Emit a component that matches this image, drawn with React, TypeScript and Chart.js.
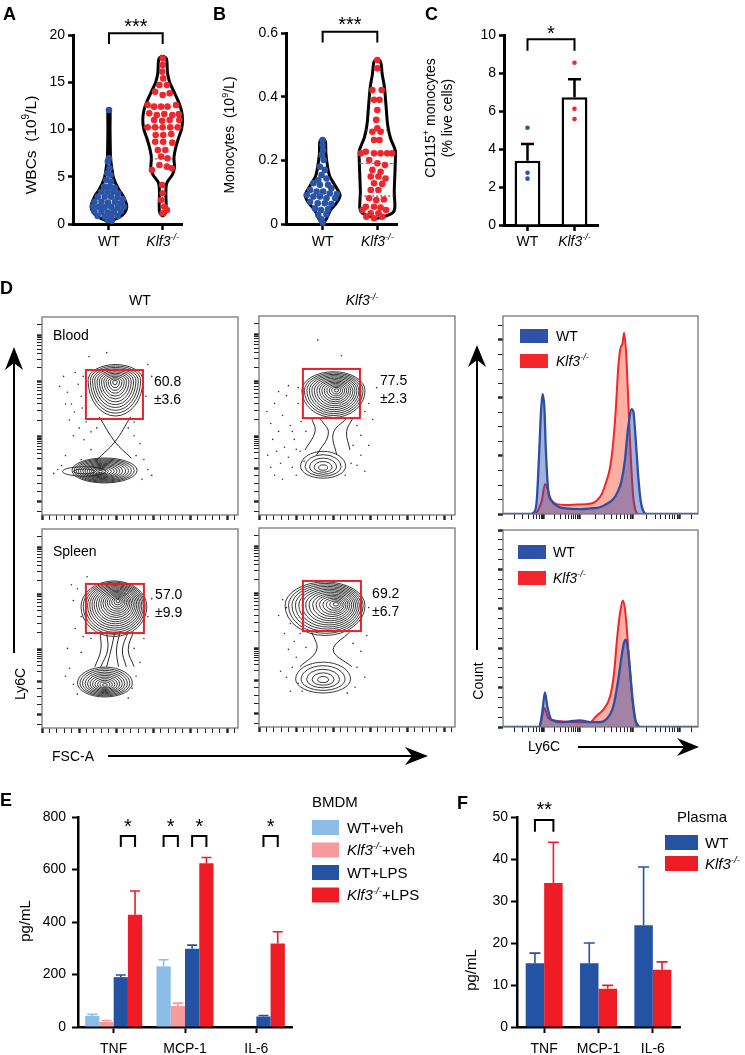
import React, { useEffect, useRef } from 'react';
import { Chart, registerables } from 'chart.js';

Chart.register(...registerables);

const FONT = '"Liberation Sans", Arial, Helvetica, sans-serif';
Chart.defaults.font.family = FONT;
Chart.defaults.color = '#000';

// ================= DATA =================
const groupLabels = ['WT', 'Klf3-/-'];

// Panel A – WBCs (10^9/L)
const wbcTicks = [0, 5, 10, 15, 20];
const wbcWT = [12.06, 6.95, 6.6, 5.89, 5.36, 5.19, 4.66, 4.48, 3.95, 3.95,
  3.84, 3.42, 3.42, 3.42, 3.25, 2.89, 2.89, 2.89, 2.82, 2.61,
  2.36, 2.36, 2.26, 2.36, 2.19, 1.83, 1.83, 1.76, 1.83, 1.76,
  1.83, 1.31, 1.31, 1.2, 1.31, 1.31, 0.85, 0.78, 0.78, 0.85,
  0.42, 0.35];
const wbcWTx = [0, 0, -0.02, 0.01, -0.03, 0.03, -0.05, 0.04, -0.09, 0.01,
  0.11, -0.14, -0.03, 0.08, 0.17, -0.21, -0.08, 0.04, 0.16, 0.26,
  -0.27, -0.14, -0.02, 0.11, 0.22, -0.3, -0.19, -0.08, 0.04, 0.16,
  0.28, -0.27, -0.14, -0.02, 0.09, 0.22, -0.21, -0.08, 0.04, 0.16,
  -0.02, 0.05];
const wbcKO = [17.53, 16.83, 16.12, 15.41, 14.71, 14.71, 14.0, 13.83, 13.65, 12.59,
  12.42, 12.42, 12.42, 12.59, 11.71, 11.53, 11.64, 11.53, 11.64, 11.01,
  10.93, 11.01, 11.01, 10.23, 10.23, 10.23, 10.23, 10.23, 9.42, 9.42,
  9.52, 8.71, 8.71, 8.61, 7.83, 7.83, 7.13, 6.95, 6.24, 6.07,
  5.71, 5.89, 4.13, 3.25, 2.54, 1.83, 1.48, 1.13];
const wbcKOx = [0, 0, -0.01, 0.01, -0.06, 0.08, -0.14, 0.13, 0, -0.28,
  -0.16, -0.03, 0.09, 0.25, -0.25, -0.11, 0.03, 0.18, 0.3, -0.16,
  -0.01, 0.13, 0.31, -0.28, -0.14, 0, 0.14, 0.28, -0.13, 0.01,
  0.16, -0.14, 0.01, 0.18, -0.09, 0.05, -0.03, 0.09, -0.06, 0.08,
  -0.2, 0.17, -0.01, 0, -0.03, 0.03, 0.08, 0];
const wbcViolinWTy = [12.2, 12.0, 10, 8, 7, 6, 5, 4.5, 4, 3.5, 3, 2.5, 2, 1.5, 1.0, 0.6, 0.3];
const wbcViolinWTw = [0, 0.02, 0.02, 0.025, 0.03, 0.05, 0.08, 0.11, 0.15, 0.2, 0.26, 0.3, 0.33, 0.32, 0.26, 0.15, 0];
const wbcViolinKOy = [17.8, 17.5, 16, 15, 14, 13, 12, 11, 10, 9, 8, 7, 6, 5.2, 4.5, 4, 3, 2, 1.2, 0.85];
const wbcViolinKOw = [0, 0.07, 0.09, 0.13, 0.21, 0.29, 0.35, 0.37, 0.35, 0.29, 0.24, 0.21, 0.22, 0.18, 0.09, 0.065, 0.06, 0.065, 0.055, 0];
const wbcKOQuartiles = [12.4, 10.2, 6.9];

// Panel B – Monocytes (10^9/L)
const monoTicks = [0, 0.2, 0.4, 0.6];
const monoWT = [0.264, 0.248, 0.232, 0.217, 0.201, 0.18, 0.17, 0.154, 0.143, 0.138,
  0.128, 0.123, 0.123, 0.112, 0.107, 0.102, 0.102, 0.096, 0.094, 0.091,
  0.086, 0.086, 0.081, 0.081, 0.07, 0.065, 0.065, 0.063, 0.049, 0.044,
  0.046, 0.028, 0.031, 0.015, 0.004];
const monoWTx = [0, 0, 0.01, -0.02, 0.02, -0.05, 0.04, -0.02, 0.07, -0.08,
  -0.17, -0.05, 0.1, 0.16, -0.23, -0.11, 0.01, 0.13, 0.26, -0.29,
  -0.17, -0.05, 0.07, 0.23, -0.23, -0.09, 0.04, 0.16, -0.14, -0.03,
  0.1, -0.08, 0.07, -0.02, 0];
const monoKO = [0.515, 0.489, 0.421, 0.421, 0.39, 0.39, 0.358, 0.327, 0.301, 0.29,
  0.29, 0.264, 0.264, 0.222, 0.227, 0.222, 0.222, 0.222, 0.222, 0.201,
  0.191, 0.185, 0.17, 0.164, 0.149, 0.149, 0.143, 0.128, 0.126, 0.107,
  0.107, 0.081, 0.075, 0.077, 0.054, 0.054, 0.052, 0.044, 0.034, 0.034,
  0.044, 0.023, 0.018, 0.023];
const monoKOx = [0, 0, -0.09, 0.08, -0.06, 0.04, 0, -0.02, 0, -0.09,
  0.06, -0.06, 0.04, -0.3, -0.21, -0.06, 0.06, 0.18, 0.27, -0.15,
  0, 0.14, -0.09, 0.06, -0.12, 0.02, 0.15, -0.06, 0.09, -0.12,
  0.02, -0.15, -0.02, 0.12, -0.21, -0.06, 0.06, -0.27, -0.12, 0.02,
  0.16, -0.2, -0.06, 0.09];
const monoViolinWTy = [0.27, 0.26, 0.22, 0.18, 0.15, 0.12, 0.09, 0.065, 0.045, 0.02, 0.0];
const monoViolinWTw = [0, 0.05, 0.06, 0.09, 0.13, 0.23, 0.32, 0.25, 0.15, 0.08, 0];
const monoViolinKOy = [0.52, 0.51, 0.47, 0.43, 0.37, 0.31, 0.27, 0.23, 0.2, 0.15, 0.1, 0.05, 0.035, 0.025, 0.018];
const monoViolinKOw = [0, 0.06, 0.09, 0.13, 0.16, 0.19, 0.24, 0.33, 0.33, 0.32, 0.31, 0.32, 0.28, 0.15, 0];
const monoKOQuartiles = [0.295, 0.19, 0.088];

// Panel C – CD115+ monocytes (% live cells)
const cdTicks = [0, 2, 4, 6, 8, 10];
const cdMeans = [3.38, 6.72];
const cdSem = [0.88, 0.95];
const cdDotsWT = [5.12, 2.75, 2.44];
const cdDotsKO = [8.54, 6.12, 5.58];

// Panel D – flow cytometry (channel units 0–1000)
const flowXMajor = [0, 189, 378, 567, 756, 945];
const flowXMinor = [38, 76, 113, 151, 227, 265, 302, 340, 416, 454, 491, 529, 605, 643, 680, 718, 794, 832, 869, 907, 983];
const flowYMajor = [67, 236, 395, 672, 909];
const flowYMinor = [20, 120, 160, 200, 284, 312, 332, 347, 360, 370, 380, 388, 478, 527, 562, 589, 611, 629, 645, 659, 743, 785, 815, 838, 856, 872, 886, 898, 960];
const histXMajor = [207, 391, 665, 905];
const histXMinor = [60, 100, 130, 155, 172, 185, 195, 202, 262, 295, 318, 336, 350, 362, 373, 383, 473, 522, 556, 582, 604, 622, 638, 652, 737, 780, 810, 833, 852, 868, 882, 894, 967];
const histBloodYMajor = [0, 29.3, 58.6, 87.9];
const histBloodYMinor = [7.3, 14.6, 22, 36.6, 44, 51.3, 66, 73.2, 80.5, 95.2];
const histSpleenYMajor = [0, 20, 40, 60, 80, 100];
const histSpleenYMinor = [5, 10, 15, 25, 30, 35, 45, 50, 55, 65, 70, 75, 85, 90, 95];

// contour populations: [cx, cy, rx, ryTop, ryBottom, peakX, peakY, levels]
const popsBloodWT = [[375, 680, 140, 80, 180, 372, 672, 12], [319, 225, 166, 63, 63, 296, 219, 13], [215, 220, 110, 24, 24, 215, 220, 2]];
const popsBloodKO = [[380, 625, 161, 95, 135, 396, 628, 14], [327, 245, 115, 75, 60, 327, 235, 5]];
const popsSpleenWT = [[367, 610, 168, 129, 150, 389, 640, 17], [321, 226, 140, 80, 70, 321, 215, 11]];
const popsSpleenKO = [[337, 610, 204, 119, 150, 396, 618, 15], [327, 241, 140, 85, 70, 327, 236, 5]];

const necksBloodWT = [[[292, 496], [372, 370], [457, 286]], [[452, 496], [372, 370], [279, 278]]];
const necksBloodKO = [[[269, 486], [286, 419], [235, 327]], [[478, 486], [447, 419], [464, 327]], [[311, 486], [354, 411], [294, 302]], [[447, 486], [379, 411], [396, 302]]];
const necksSpleenWT = [[[296, 484], [300, 392], [270, 308]], [[330, 484], [335, 392], [300, 308]], [[372, 484], [352, 392], [330, 308]], [[398, 484], [380, 392], [390, 308]], [[440, 484], [410, 392], [430, 308]], [[466, 484], [440, 392], [470, 308]]];
const necksSpleenKO = [[[269, 479], [294, 387], [209, 303]], [[464, 479], [379, 387], [473, 303]]];

const dotsBloodWT = [[90, 650], [110, 700], [130, 620], [150, 560], [170, 720], [185, 660], [200, 600], [210, 700], [165, 520], [140, 480], [120, 560], [205, 540], [225, 470], [190, 440], [250, 420], [160, 400], [215, 380], [250, 330], [280, 440], [440, 440], [470, 400], [500, 360], [480, 300], [520, 280], [540, 230], [560, 200], [510, 180], [120, 300], [100, 250], [80, 230], [60, 210], [540, 760], [560, 700], [240, 800], [330, 820], [530, 600], [200, 280], [470, 470]];
const dotsBloodKO = [[40, 520], [60, 460], [80, 560], [100, 420], [120, 500], [140, 600], [160, 450], [180, 380], [200, 560], [215, 470], [70, 380], [90, 320], [110, 260], [130, 340], [150, 290], [170, 240], [190, 200], [60, 240], [80, 200], [45, 300], [210, 320], [230, 270], [100, 620], [150, 650], [200, 640], [120, 180], [170, 420], [190, 330], [520, 600], [540, 520], [560, 560], [500, 450], [520, 400], [560, 350], [520, 300], [500, 250], [540, 220], [580, 480], [480, 350], [470, 260], [440, 200], [300, 880], [420, 800], [600, 640], [240, 420]];
const dotsSpleenWT = [[180, 700], [160, 640], [200, 560], [170, 500], [210, 460], [150, 720], [230, 760], [250, 450], [140, 300], [120, 260], [160, 220], [180, 170], [200, 380], [470, 400], [500, 330], [480, 260], [460, 200], [520, 450], [560, 650], [540, 560], [130, 400], [440, 150]];
const dotsSpleenKO = [[120, 640], [140, 600], [100, 560], [160, 520], [130, 470], [180, 430], [150, 390], [190, 350], [170, 300], [140, 250], [200, 220], [110, 280], [220, 180], [160, 180], [480, 420], [520, 380], [500, 300], [540, 250], [490, 200], [550, 460], [520, 540], [560, 600], [450, 170], [240, 400], [210, 470]];

const gates = [[224, 485, 515, 732], [224, 487, 515, 734], [224, 477, 520, 724], [224, 482, 520, 734]];
const gatePct = ['60.8', '77.5', '57.0', '69.2'];
const gateSd = ['±3.6', '±2.3', '±9.9', '±6.7'];
const tissues = ['Blood', 'Spleen'];

// Ly6C histograms: [channel, % of max]
const histBloodWT = [[0, 0], [140, 0], [160, 1], [173, 6.7], [186, 32], [195, 52], [203, 60.5], [212, 54], [220, 32], [232, 11.8], [249, 6.7], [275, 4.2], [320, 2.8], [400, 2.5], [446, 2.8], [497, 3.4], [531, 5], [566, 7.6], [591, 11.8], [608, 16.8], [625, 27], [642, 43.7], [660, 53], [668, 52], [681, 37], [694, 18.5], [706, 6.7], [723, 0.8], [737, 0], [1000, 0]];
const histBloodKO = [[0, 0], [165, 0], [180, 2], [199, 6.7], [215, 15], [227, 13.4], [241, 8.4], [258, 5.9], [275, 5], [320, 4.6], [380, 4.8], [446, 5.2], [480, 6.7], [506, 10], [531, 16.8], [549, 23.5], [566, 37], [579, 53.8], [591, 74], [603, 84], [612, 85.7], [621, 91.6], [631, 82], [639, 65.5], [648, 43.7], [658, 23.5], [668, 8.4], [680, 1.7], [694, 0], [1000, 0]];
const histSpleenWT = [[0, 0], [180, 0], [190, 1], [203, 8.8], [215, 17.6], [227, 10.5], [249, 3.7], [308, 2.5], [395, 3.4], [446, 2.5], [497, 2.5], [531, 4], [566, 10.5], [591, 24], [608, 35.8], [620, 42.6], [631, 44.3], [641, 39.2], [651, 29], [665, 13.9], [679, 3.7], [694, 0.7], [711, 0], [1000, 0]];
const histSpleenKO = [[0, 0], [185, 0], [198, 4], [212, 9.6], [232, 4.6], [258, 3.4], [325, 2.7], [446, 2.4], [480, 5.7], [514, 8.8], [549, 15.5], [569, 27], [586, 46], [600, 57.8], [614, 64.2], [626, 59.5], [638, 46], [651, 29], [665, 12.2], [679, 2.9], [689, 0.3], [700, 0], [1000, 0]];

// Panel E – BMDM cytokines (pg/mL)
const cytokines = ['TNF', 'MCP-1', 'IL-6'];
const bmdmTicks = [0, 200, 400, 600, 800];
const bmdmWTveh = [42, 231, 0];
const bmdmWTvehErr = [6, 25, 0];
const bmdmKOveh = [20, 80, 0];
const bmdmKOvehErr = [5, 11, 0];
const bmdmWTlps = [190, 298, 40];
const bmdmWTlpsErr = [8, 14, 4];
const bmdmKOlps = [428, 624, 318];
const bmdmKOlpsErr = [90, 22, 45];

// Panel F – plasma cytokines (pg/mL)
const plasmaTicks = [0, 10, 20, 30, 40, 50];
const plasmaWT = [15.2, 15.2, 24.2];
const plasmaWTErr = [2.4, 4.8, 13.9];
const plasmaKO = [34.3, 9.1, 13.65];
const plasmaKOErr = [9.7, 0.8, 1.85];

// ================= HELPERS =================
const BLUE = '#2a55a7';
const RED = '#f0262c';
type Seg = { t: string; i?: boolean; s?: boolean };
const KLF: Seg[] = [{ t: 'Klf3', i: true }, { t: '-/-', i: true, s: true }];

function fnt(size: number, it?: boolean, bold?: boolean) {
  return `${it ? 'italic ' : ''}${bold ? 'bold ' : ''}${size}px ${FONT}`;
}
function segW(ctx: any, segs: Seg[], size: number) {
  let w = 0;
  for (const g of segs) { ctx.font = fnt(g.s ? size * 0.65 : size, g.i); w += ctx.measureText(g.t).width; }
  return w;
}
function drawSegs(ctx: any, segs: Seg[], x: number, y: number, size: number, align = 'left', color = '#000') {
  const w = segW(ctx, segs, size);
  let cx = align === 'center' ? x - w / 2 : align === 'right' ? x - w : x;
  ctx.fillStyle = color; ctx.textAlign = 'left'; ctx.textBaseline = 'alphabetic';
  for (const g of segs) {
    ctx.font = fnt(g.s ? size * 0.65 : size, g.i);
    ctx.fillText(g.t, cx, g.s ? y - size * 0.4 : y);
    cx += ctx.measureText(g.t).width;
  }
}
function drawSegsRot(ctx: any, segs: Seg[], cx: number, cy: number, size: number) {
  ctx.save(); ctx.translate(cx, cy); ctx.rotate(-Math.PI / 2);
  drawSegs(ctx, segs, 0, size * 0.36, size, 'center');
  ctx.restore();
}
function bracket(ctx: any, x1: number, x2: number, yTop: number, yLeg: number, label: string, yStar: number, size = 20) {
  ctx.save();
  ctx.beginPath(); ctx.moveTo(x1, yLeg); ctx.lineTo(x1, yTop); ctx.lineTo(x2, yTop); ctx.lineTo(x2, yLeg);
  ctx.strokeStyle = '#000'; ctx.lineWidth = 2; ctx.lineJoin = 'miter'; ctx.stroke();
  ctx.font = fnt(size); ctx.textAlign = 'center'; ctx.textBaseline = 'alphabetic'; ctx.fillStyle = '#000';
  ctx.fillText(label, (x1 + x2) / 2, yStar + size * 0.57);
  ctx.restore();
}
function outline(c: number, ys: number[], ws: number[]) {
  const right = ys.map((y, i) => ({ x: c + ws[i], y }));
  const left = ys.map((y, i) => ({ x: c - ws[i], y })).reverse().slice(1);
  return [...right, ...left];
}
function hwAt(ys: number[], ws: number[], v: number) {
  for (let i = 0; i < ys.length - 1; i++) {
    if (v <= ys[i] && v >= ys[i + 1]) {
      const t = (ys[i] - v) / (ys[i] - ys[i + 1]);
      return ws[i] + (ws[i + 1] - ws[i]) * t;
    }
  }
  return 0;
}
function tickList(major: number[], minor: number[]) {
  return [...major.map((v) => ({ value: v, major: true })), ...minor.map((v) => ({ value: v, major: false }))].sort((a, b) => a.value - b.value);
}
function base(ox: number, oy: number, w: number, area: number[]) {
  const [, T, R] = area;
  return {
    responsive: false, maintainAspectRatio: false, animation: false, devicePixelRatio: 1, events: [],
    layout: { padding: { left: 0, top: T - oy, right: ox + w - R, bottom: 0 } },
    plugins: { legend: { display: false }, tooltip: { enabled: false }, title: { display: false } },
  };
}
const blackAxis = (len: number, tw: number) => ({
  grid: { drawOnChartArea: false, drawTicks: true, tickLength: len, tickWidth: tw, tickColor: '#000' },
  border: { color: '#000', width: 3 },
});
function tickAxis(major: number[], minor: number[], max: number, fit: any) {
  return {
    type: 'linear', min: 0, max,
    afterBuildTicks: (s: any) => { s.ticks = tickList(major, minor); },
    ticks: { display: false },
    grid: { drawOnChartArea: false, drawTicks: true, tickLength: 5, tickColor: '#222', tickWidth: (c: any) => (c.tick && c.tick.major ? 2.4 : 1) },
    border: { display: false },
    afterFit: fit,
  };
}

// ================= CONFIG BUILDERS =================
function violinConfig(ox: number, oy: number, w: number, h: number, area: number[], p: any) {
  const [L, , , B] = area;
  const datasets: any[] = [
    { data: outline(1, p.vWTy, p.vWTw), showLine: true, borderColor: '#000', borderWidth: 3, pointRadius: 0, tension: 0.3, order: 5, clip: false },
    { data: outline(2, p.vKOy, p.vKOw), showLine: true, borderColor: '#000', borderWidth: 3, pointRadius: 0, tension: 0.3, order: 5, clip: false },
    ...p.quart.map((q: number, i: number) => {
      const hw = hwAt(p.vKOy, p.vKOw, q);
      return { data: [{ x: 2 - hw, y: q }, { x: 2 + hw, y: q }], showLine: true, borderColor: i === 1 ? '#f05555' : '#555', borderDash: i === 1 ? [4, 2] : [2, 2], borderWidth: 1.2, pointRadius: 0, order: 4 };
    }),
    { data: p.wt.map((v: number, i: number) => ({ x: 1 + p.wtx[i], y: v })), pointRadius: 3.3, backgroundColor: BLUE, borderWidth: 0, order: 1, clip: false },
    { data: p.ko.map((v: number, i: number) => ({ x: 2 + p.kox[i], y: v })), pointRadius: 3.3, backgroundColor: RED, borderWidth: 0, order: 1, clip: false },
  ];
  return {
    type: 'scatter',
    data: { datasets },
    options: {
      ...base(ox, oy, w, area),
      scales: {
        x: { type: 'linear', min: 0.33, max: 2.36, afterBuildTicks: (s: any) => { s.ticks = [{ value: 1 }, { value: 2 }]; }, ticks: { display: false }, ...blackAxis(6, 2.5), afterFit: (s: any) => { s.height = oy + h - B; } },
        y: { type: 'linear', min: 0, max: p.ymax, afterBuildTicks: (s: any) => { s.ticks = p.ticks.map((v: number) => ({ value: v })); }, ticks: { font: { size: 14 }, color: '#000', padding: 3, callback: (v: any) => String(v) }, ...blackAxis(5, 2.5), afterFit: (s: any) => { s.width = L - ox; } },
      },
    },
    plugins: [{
      id: 'violinDeco',
      afterDraw(chart: any) {
        const { ctx, scales: { x, y } } = chart;
        drawSegs(ctx, [{ t: groupLabels[0] }], x.getPixelForValue(1), 246 - oy, 14, 'center');
        drawSegs(ctx, KLF, x.getPixelForValue(2), 246 - oy, 14, 'center');
        bracket(ctx, x.getPixelForValue(1), x.getPixelForValue(2), y.getPixelForValue(p.br[0]), y.getPixelForValue(p.br[1]), p.star, y.getPixelForValue(p.br[2]));
        drawSegsRot(ctx, p.title, p.titleX - ox, p.titleY - oy, p.titleSize);
      },
    }],
  };
}

function cdConfig(ox: number, oy: number, w: number, h: number, area: number[]) {
  const [L, , , B] = area;
  return {
    type: 'bar',
    data: {
      labels: groupLabels,
      datasets: [
        { type: 'bar', data: cdMeans, backgroundColor: '#fff', borderColor: '#000', borderWidth: 2.5, barPercentage: 0.55, categoryPercentage: 1, order: 2 },
        { type: 'scatter', data: cdDotsWT.map((v) => ({ x: groupLabels[0], y: v })), backgroundColor: BLUE, pointRadius: 2.3, borderWidth: 0, order: 1 },
        { type: 'scatter', data: cdDotsKO.map((v) => ({ x: groupLabels[1], y: v })), backgroundColor: RED, pointRadius: 2.3, borderWidth: 0, order: 1 },
      ],
    },
    options: {
      ...base(ox, oy, w, area),
      scales: {
        x: { type: 'category', offset: true, ticks: { display: false }, grid: { offset: false, drawOnChartArea: false, drawTicks: true, tickLength: 6, tickWidth: 2.5, tickColor: '#000' }, border: { color: '#000', width: 3 }, afterFit: (s: any) => { s.height = oy + h - B; } },
        y: { type: 'linear', min: 0, max: 10, afterBuildTicks: (s: any) => { s.ticks = cdTicks.map((v) => ({ value: v })); }, ticks: { font: { size: 14 }, color: '#000', padding: 3, callback: (v: any) => String(v) }, ...blackAxis(5, 2.5), afterFit: (s: any) => { s.width = L - ox; } },
      },
    },
    plugins: [{
      id: 'cdDeco',
      afterDatasetsDraw(chart: any) {
        const { ctx, scales: { y } } = chart;
        const meta = chart.getDatasetMeta(0);
        ctx.save(); ctx.strokeStyle = '#000'; ctx.lineWidth = 2.5;
        meta.data.forEach((bar: any, i: number) => {
          const top = y.getPixelForValue(cdMeans[i] + cdSem[i]);
          ctx.beginPath(); ctx.moveTo(bar.x, bar.y); ctx.lineTo(bar.x, top);
          ctx.moveTo(bar.x - 6.5, top); ctx.lineTo(bar.x + 6.5, top); ctx.stroke();
        });
        ctx.restore();
      },
      afterDraw(chart: any) {
        const { ctx, scales: { x, y } } = chart;
        const x0 = x.getPixelForValue(0), x1 = x.getPixelForValue(1);
        drawSegs(ctx, [{ t: groupLabels[0] }], x0, 246 - oy, 14, 'center');
        drawSegs(ctx, KLF, x1, 246 - oy, 14, 'center');
        bracket(ctx, x0, x1, y.getPixelForValue(9.77), y.getPixelForValue(9.17), '*', y.getPixelForValue(10.35));
        drawSegsRot(ctx, [{ t: 'CD115' }, { t: '+', s: true }, { t: ' monocytes' }], 430 - ox, 118 - oy, 14);
        drawSegsRot(ctx, [{ t: '(% live cells)' }], 447 - ox, 118 - oy, 14);
      },
    }],
  };
}

function flowConfig(ox: number, oy: number, w: number, h: number, area: number[], s: any) {
  const [L, , , B] = area;
  const datasets: any[] = [
    { data: s.dots.map(([x, y]: number[]) => ({ x, y })), pointRadius: 0.8, backgroundColor: '#333', borderWidth: 0 },
    ...s.necks.map((n: number[][]) => ({ data: n.map(([x, y]) => ({ x, y })), showLine: true, borderColor: '#111', borderWidth: 0.9, pointRadius: 0, tension: 0.4 })),
  ];
  return {
    type: 'scatter',
    data: { datasets },
    options: {
      ...base(ox, oy, w, area),
      scales: {
        x: tickAxis(flowXMajor, flowXMinor, 1000, (sc: any) => { sc.height = oy + h - B; }),
        y: tickAxis(flowYMajor, flowYMinor, 1000, (sc: any) => { sc.width = L - ox; }),
      },
    },
    plugins: [{
      id: 'contours',
      afterDatasetsDraw(chart: any) {
        const { ctx, chartArea: ca, scales: { x, y } } = chart;
        ctx.save();
        ctx.beginPath(); ctx.rect(ca.left, ca.top, ca.right - ca.left, ca.bottom - ca.top); ctx.clip();
        ctx.strokeStyle = '#161616'; ctx.lineWidth = 0.85;
        for (const [cx, cy, rx, ryT, ryB, pkx, pky, n] of s.pops) {
          for (let k = 0; k < n; k++) {
            const f = 1 - k / n;
            const ex = pkx + (cx - pkx) * f, ey = pky + (cy - pky) * f;
            const X = x.getPixelForValue(ex), Y = y.getPixelForValue(ey);
            const RX = Math.abs(x.getPixelForValue(ex + rx * f) - X);
            const RT = Math.abs(y.getPixelForValue(ey + ryT * f) - Y);
            const RB = Math.abs(y.getPixelForValue(ey - ryB * f) - Y);
            ctx.beginPath();
            ctx.ellipse(X, Y, RX, RB, 0, 0, Math.PI);
            ctx.ellipse(X, Y, RX, RT, 0, Math.PI, 2 * Math.PI);
            ctx.closePath(); ctx.stroke();
          }
        }
        ctx.restore();
      },
      afterDraw(chart: any) {
        const { ctx, chartArea: ca, scales: { x, y } } = chart;
        const g = s.gate;
        ctx.save();
        ctx.strokeStyle = '#e8202a'; ctx.lineWidth = 2;
        const gx = x.getPixelForValue(g[0]), gy = y.getPixelForValue(g[3]);
        ctx.strokeRect(gx, gy, x.getPixelForValue(g[2]) - gx, y.getPixelForValue(g[1]) - gy);
        ctx.strokeStyle = '#777'; ctx.lineWidth = 1.3;
        ctx.strokeRect(ca.left, ca.top, ca.right - ca.left, ca.bottom - ca.top);
        ctx.restore();
        drawSegs(ctx, [{ t: s.pct }], x.getPixelForValue(s.txt[0]), y.getPixelForValue(s.txt[1]) + 5, 14);
        drawSegs(ctx, [{ t: s.sd }], x.getPixelForValue(s.txt[0]), y.getPixelForValue(s.txt[2]) + 5, 14);
        if (s.label) drawSegs(ctx, [{ t: s.label }], x.getPixelForValue(s.labelPos[0]), y.getPixelForValue(s.labelPos[1]) + 5, 14);
      },
    }],
  };
}

function histConfig(ox: number, oy: number, w: number, h: number, area: number[], wt: number[][], ko: number[][], yMajor: number[], yMinor: number[], lg: number[]) {
  const [L, , , B] = area;
  return {
    type: 'line',
    data: {
      datasets: [
        { data: wt.map(([x, y]) => ({ x, y })), borderColor: '#2c4fa5', backgroundColor: 'rgba(44,70,170,0.42)', fill: 'origin', borderWidth: 2.3, pointRadius: 0, cubicInterpolationMode: 'monotone', order: 1 },
        { data: ko.map(([x, y]) => ({ x, y })), borderColor: '#f2262b', backgroundColor: 'rgba(250,110,85,0.55)', fill: 'origin', borderWidth: 2, pointRadius: 0, cubicInterpolationMode: 'monotone', order: 2 },
      ],
    },
    options: {
      ...base(ox, oy, w, area),
      scales: {
        x: tickAxis(histXMajor, histXMinor, 1000, (sc: any) => { sc.height = oy + h - B; }),
        y: tickAxis(yMajor, yMinor, 100, (sc: any) => { sc.width = L - ox; }),
      },
    },
    plugins: [{
      id: 'histDeco',
      afterDraw(chart: any) {
        const { ctx, chartArea: ca } = chart;
        ctx.save();
        ctx.strokeStyle = '#777'; ctx.lineWidth = 1.3;
        ctx.strokeRect(ca.left, ca.top, ca.right - ca.left, ca.bottom - ca.top);
        const [dx, dy1, dy2, tx] = lg;
        ctx.fillStyle = '#2f52a8'; ctx.fillRect(ca.left + dx, ca.top + dy1, 28, 14);
        ctx.fillStyle = '#f2262b'; ctx.fillRect(ca.left + dx, ca.top + dy2, 28, 14);
        ctx.restore();
        drawSegs(ctx, [{ t: groupLabels[0] }], ca.left + tx, ca.top + dy1 + 12, 14);
        drawSegs(ctx, KLF, ca.left + tx, ca.top + dy2 + 12, 14);
      },
    }],
  };
}

function errorBars(chart: any, series: number[][], errs: number[][], colors: string[], cap: number) {
  const { ctx, scales: { y } } = chart;
  ctx.save(); ctx.lineWidth = 1.6;
  series.forEach((vals, d) => {
    const meta = chart.getDatasetMeta(d);
    vals.forEach((v, i) => {
      if (!errs[d][i]) return;
      const bar = meta.data[i];
      const top = y.getPixelForValue(v + errs[d][i]);
      ctx.strokeStyle = colors[d];
      ctx.beginPath(); ctx.moveTo(bar.x, bar.y); ctx.lineTo(bar.x, top);
      ctx.moveTo(bar.x - cap, top); ctx.lineTo(bar.x + cap, top); ctx.stroke();
    });
  });
  ctx.restore();
}

function cytoConfig(ox: number, oy: number, w: number, h: number, area: number[], opt: any) {
  const [L, , , B] = area;
  return {
    type: 'bar',
    data: {
      labels: cytokines,
      datasets: opt.series.map((d: number[], i: number) => ({ data: d, backgroundColor: opt.colors[i], borderWidth: 0, categoryPercentage: opt.catPct, barPercentage: 1 })),
    },
    options: {
      ...base(ox, oy, w, area),
      scales: {
        x: { type: 'category', offset: true, ticks: { font: { size: 14 }, color: '#000', padding: 8 }, grid: { offset: false, drawOnChartArea: false, drawTicks: true, tickLength: 6, tickWidth: 2, tickColor: '#000' }, border: { color: '#000', width: 2.5 }, afterFit: (s: any) => { s.height = oy + h - B; } },
        y: { type: 'linear', min: 0, max: opt.ymax, afterBuildTicks: (s: any) => { s.ticks = opt.ticks.map((v: number) => ({ value: v })); }, ticks: { font: { size: 14 }, color: '#000', padding: opt.tickPad, callback: (v: any) => String(v) }, grid: { drawOnChartArea: false, drawTicks: true, tickLength: 6, tickWidth: 2, tickColor: '#000' }, border: { color: '#000', width: 2.5 }, afterFit: (s: any) => { s.width = L - ox; } },
      },
    },
    plugins: [{
      id: 'cytoDeco',
      afterDatasetsDraw(chart: any) { errorBars(chart, opt.series, opt.errs, opt.colors, opt.cap); },
      afterDraw(chart: any) {
        const { ctx, scales: { y } } = chart;
        for (const [a, b, c] of opt.sig) {
          const x1 = chart.getDatasetMeta(a).data[c].x, x2 = chart.getDatasetMeta(b).data[c].x;
          bracket(ctx, x1, x2, y.getPixelForValue(opt.br[0]), y.getPixelForValue(opt.br[1]), opt.star, y.getPixelForValue(opt.br[2]));
        }
        drawSegsRot(ctx, [{ t: 'pg/mL' }], opt.titlePos[0] - ox, opt.titlePos[1] - oy, 15);
        const lg = opt.legend;
        drawSegs(ctx, [{ t: lg.title }], lg.x - ox, lg.titleY - oy, 15);
        lg.rows.forEach((r: Seg[], i: number) => {
          const top = lg.y0 + i * lg.step - oy;
          ctx.fillStyle = opt.colors[i];
          ctx.fillRect(lg.x - ox + lg.swX, top, lg.swW, 15);
          drawSegs(ctx, r, lg.x - ox + lg.txX, top + 12.5, 15);
        });
      },
    }],
  };
}

// ================= COMPONENTS =================
function ChartBox({ x, y, w, h, make }: { x: number; y: number; w: number; h: number; make: (ox: number, oy: number) => any }) {
  const ref = useRef<HTMLCanvasElement>(null);
  useEffect(() => {
    const chart = new Chart(ref.current as any, make(x, y));
    return () => chart.destroy();
  }, []);
  return <canvas ref={ref} width={w} height={h} style={{ position: 'absolute', left: x, top: y, width: w, height: h }} />;
}

function Txt({ x, y, size = 14, bold, italic, center, rot, children }: any) {
  const tx = center || rot ? '-50%' : '0';
  return (
    <div style={{ position: 'absolute', left: x, top: y, fontSize: size, lineHeight: 1, fontWeight: bold ? 'bold' : 'normal', fontStyle: italic ? 'italic' : 'normal', whiteSpace: 'nowrap', transform: `translate(${tx}, -50%)${rot ? ' rotate(-90deg)' : ''}` }}>
      {children}
    </div>
  );
}
const Klf = () => (<span style={{ fontStyle: 'italic' }}>Klf3<span style={{ fontSize: '0.65em', verticalAlign: '0.5em' }}>-/-</span></span>);

const panelA = { wt: wbcWT, wtx: wbcWTx, ko: wbcKO, kox: wbcKOx, vWTy: wbcViolinWTy, vWTw: wbcViolinWTw, vKOy: wbcViolinKOy, vKOw: wbcViolinKOw, quart: wbcKOQuartiles, ymax: 20, ticks: wbcTicks, br: [20.18, 19.05, 21.4], star: '***', title: [{ t: 'WBCs  (10' }, { t: '9', s: true }, { t: '/L)' }], titleX: 30, titleY: 145, titleSize: 15.5 };
const panelB = { wt: monoWT, wtx: monoWTx, ko: monoKO, kox: monoKOx, vWTy: monoViolinWTy, vWTw: monoViolinWTw, vKOy: monoViolinKOy, vKOw: monoViolinKOw, quart: monoKOQuartiles, ymax: 0.6, ticks: monoTicks, br: [0.604, 0.57, 0.641], star: '***', title: [{ t: 'Monocytes  (10' }, { t: '9', s: true }, { t: '/L)' }], titleX: 229, titleY: 135, titleSize: 14 };

const flowSpecs = [
  { pops: popsBloodWT, necks: necksBloodWT, dots: dotsBloodWT, gate: gates[0], pct: gatePct[0], sd: gateSd[0], txt: [571, 677, 586], label: tissues[0], labelPos: [56, 909] },
  { pops: popsBloodKO, necks: necksBloodKO, dots: dotsBloodKO, gate: gates[1], pct: gatePct[1], sd: gateSd[1], txt: [617, 678, 588] },
  { pops: popsSpleenWT, necks: necksSpleenWT, dots: dotsSpleenWT, gate: gates[2], pct: gatePct[2], sd: gateSd[2], txt: [577, 673, 583], label: tissues[1], labelPos: [56, 889] },
  { pops: popsSpleenKO, necks: necksSpleenKO, dots: dotsSpleenKO, gate: gates[3], pct: gatePct[3], sd: gateSd[3], txt: [577, 673, 583] },
];

const eColors = ['#8cbde6', '#f89a9d', '#2553a4', '#f01c25'];
const panelE = {
  series: [bmdmWTveh, bmdmKOveh, bmdmWTlps, bmdmKOlps], errs: [bmdmWTvehErr, bmdmKOvehErr, bmdmWTlpsErr, bmdmKOlpsErr], colors: eColors,
  catPct: 0.8, cap: 5, ymax: 800, ticks: bmdmTicks, tickPad: 6, sig: [[2, 3, 0], [0, 1, 1], [2, 3, 1], [2, 3, 2]], br: [728, 686, 781], star: '*', titlePos: [25, 921],
  legend: { title: 'BMDM', x: 312, titleY: 807, y0: 820, step: 22.5, swX: 0, swW: 27, txX: 35, rows: [[{ t: 'WT+veh' }], [...KLF, { t: '+veh' }], [{ t: 'WT+LPS' }], [...KLF, { t: '+LPS' }]] },
};
const panelF = {
  series: [plasmaWT, plasmaKO], errs: [plasmaWTErr, plasmaKOErr], colors: ['#2553a4', '#f01c25'],
  catPct: 0.68, cap: 5.5, ymax: 50, ticks: plasmaTicks, tickPad: 3, sig: [[0, 1, 0]], br: [49.3, 46.5, 52.9], star: '**', titlePos: [471, 970],
  legend: { title: 'Plasma', x: 677, titleY: 822, y0: 835, step: 21, swX: -12, swW: 33, txX: 28, rows: [[{ t: 'WT' }], [...KLF]] },
};

export default function App() {
  return (
    <div style={{ position: 'absolute', left: 0, top: 0, width: 745, height: 1055, background: '#fff', overflow: 'hidden', fontFamily: FONT, color: '#000' }}>
      <ChartBox x={0} y={0} w={205} h={250} make={(ox, oy) => violinConfig(ox, oy, 205, 250, [73, 35, 182, 224], panelA)} />
      <ChartBox x={205} y={0} w={210} h={250} make={(ox, oy) => violinConfig(ox, oy, 210, 250, [286, 33, 397, 224], panelB)} />
      <ChartBox x={415} y={0} w={200} h={250} make={(ox, oy) => cdConfig(ox, oy, 200, 250, [504, 35, 598, 225])} />

      <ChartBox x={30} y={305} w={215} h={220} make={(ox, oy) => flowConfig(ox, oy, 215, 220, [42, 317, 238, 515], flowSpecs[0])} />
      <ChartBox x={247} y={305} w={215} h={220} make={(ox, oy) => flowConfig(ox, oy, 215, 220, [259, 316, 455, 515], flowSpecs[1])} />
      <ChartBox x={30} y={522} w={215} h={216} make={(ox, oy) => flowConfig(ox, oy, 215, 216, [42, 529, 238, 728], flowSpecs[2])} />
      <ChartBox x={247} y={522} w={215} h={215} make={(ox, oy) => flowConfig(ox, oy, 215, 215, [259, 528, 455, 727], flowSpecs[3])} />
      <ChartBox x={490} y={305} w={215} h={220} make={(ox, oy) => histConfig(ox, oy, 215, 220, [503, 316, 698, 514], histBloodWT, histBloodKO, histBloodYMajor, histBloodYMinor, [17, 13, 38, 53])} />
      <ChartBox x={490} y={522} w={215} h={215} make={(ox, oy) => histConfig(ox, oy, 215, 215, [503, 530, 698, 727], histSpleenWT, histSpleenKO, histSpleenYMajor, histSpleenYMinor, [15, 15, 41, 50])} />

      <ChartBox x={0} y={780} w={460} h={275} make={(ox, oy) => cytoConfig(ox, oy, 460, 275, [78, 817, 292, 1027], panelE)} />
      <ChartBox x={460} y={780} w={285} h={275} make={(ox, oy) => cytoConfig(ox, oy, 285, 275, [517, 817, 680, 1027], panelF)} />

      <svg width={745} height={1055} style={{ position: 'absolute', left: 0, top: 0, pointerEvents: 'none' }}>
        <g stroke="#000" strokeWidth={2} fill="none">
          <line x1={14} y1={653} x2={14} y2={362} />
          <line x1={477} y1={650} x2={477} y2={360} />
          <line x1={108} y1={756} x2={414} y2={756} />
          <line x1={578} y1={747} x2={686} y2={747} />
        </g>
        <g fill="#000">
          <polygon points="14,347 5,370 14,363 23,370" />
          <polygon points="477,345 468,367 477,360 486,367" />
          <polygon points="428,756 405,747 412,756 405,765" />
          <polygon points="699,747 677,738 684,747 677,756" />
        </g>
      </svg>

      <Txt x={3} y={13.5} size={18} bold>A</Txt>
      <Txt x={213} y={13.5} size={18} bold>B</Txt>
      <Txt x={425} y={13.5} size={18} bold>C</Txt>
      <Txt x={0} y={287.5} size={18} bold>D</Txt>
      <Txt x={0} y={800} size={18} bold>E</Txt>
      <Txt x={457} y={803} size={18} bold>F</Txt>

      <Txt x={140} y={300} center>WT</Txt>
      <Txt x={362} y={300} center><Klf /></Txt>
      <Txt x={20} y={684} rot>Ly6C</Txt>
      <Txt x={52} y={756}>FSC-A</Txt>
      <Txt x={478} y={681} rot>Count</Txt>
      <Txt x={528} y={746}>Ly6C</Txt>
    </div>
  );
}
